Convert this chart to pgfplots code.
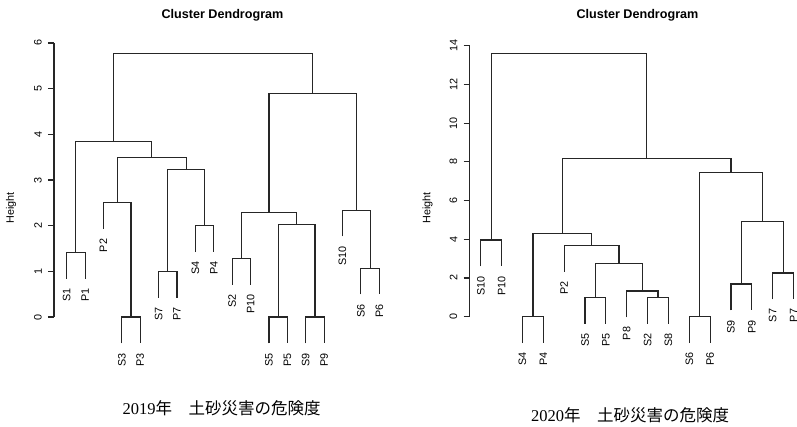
\documentclass[border=0pt]{standalone}
\usepackage{pgfplots}
\pgfplotsset{compat=1.18}
\usepackage{fontspec}
\setmainfont{Liberation Sans}
\newfontfamily\cjk{Noto Sans CJK JP}
\newfontfamily\serif{Liberation Serif}

\pgfplotsset{
  dend/.style={black!85, line width=1.15pt, mark=none, line join=miter},
  dendaxis/.style={
    scale only axis, clip=false,
    axis x line=none, axis y line*=left,
    tick align=outside, major tick length=6pt,
    every y tick/.style={black!85, line width=1.15pt},
    axis line style={black!85, line width=1.15pt},
    /pgf/number format/assume math mode=true,
    yticklabel style={rotate=90, anchor=south, inner sep=0pt, font=\fontsize{10.8}{12}\selectfont},
    yticklabel shift=6pt,
  },
  leaflab/.style={only marks, mark=none, nodes near coords, point meta=explicit symbolic,
    every node near coord/.style={font=\fontsize{10.8}{12}\selectfont, inner sep=0pt, anchor=east, rotate=90, xshift=-9.5pt}},
}

\begin{document}
\begin{tikzpicture}
\useasboundingbox (0,0) rectangle (797pt,-427pt);

% ---------------- 2019 ----------------
\begin{axis}[dendaxis, at={(54pt,-317pt)}, anchor=south west,
  width=334.5pt, height=274pt, xmin=0.31, xmax=18.5, ymin=0, ymax=6,
  ytick={0,1,2,3,4,5,6}]
\addplot[dend] coordinates {(1,0.843) (1,1.42) (2,1.42) (2,0.843)};
\addplot[dend] coordinates {(4,-0.577) (4,0) (5,0) (5,-0.577)};
\addplot[dend] coordinates {(3,1.923) (3,2.50) (4.5,2.50) (4.5,0)};
\addplot[dend] coordinates {(6,0.423) (6,1.0) (7,1.0) (7,0.423)};
\addplot[dend] coordinates {(8,1.423) (8,2.0) (9,2.0) (9,1.423)};
\addplot[dend] coordinates {(6.5,1.0) (6.5,3.23) (8.5,3.23) (8.5,2.0)};
\addplot[dend] coordinates {(3.75,2.50) (3.75,3.49) (7.5,3.49) (7.5,3.23)};
\addplot[dend] coordinates {(1.5,1.42) (1.5,3.85) (5.625,3.85) (5.625,3.49)};
\addplot[dend] coordinates {(10,0.703) (10,1.28) (11,1.28) (11,0.703)};
\addplot[dend] coordinates {(12,-0.577) (12,0) (13,0) (13,-0.577)};
\addplot[dend] coordinates {(14,-0.577) (14,0) (15,0) (15,-0.577)};
\addplot[dend] coordinates {(12.5,0) (12.5,2.02) (14.5,2.02) (14.5,0)};
\addplot[dend] coordinates {(10.5,1.28) (10.5,2.28) (13.5,2.28) (13.5,2.02)};
\addplot[dend] coordinates {(17,0.493) (17,1.07) (18,1.07) (18,0.493)};
\addplot[dend] coordinates {(16,1.763) (16,2.34) (17.5,2.34) (17.5,1.07)};
\addplot[dend] coordinates {(12,2.28) (12,4.89) (16.75,4.89) (16.75,2.34)};
\addplot[dend] coordinates {(3.5625,3.85) (3.5625,5.77) (14.375,5.77) (14.375,4.89)};
\addplot[leaflab] table[meta=lab] {
x y lab
1 0.843 S1
2 0.843 P1
3 1.923 P2
4 -0.577 S3
5 -0.577 P3
6 0.423 S7
7 0.423 P7
8 1.423 S4
9 1.423 P4
10 0.703 S2
11 0.703 P10
12 -0.577 S5
13 -0.577 P5
14 -0.577 S9
15 -0.577 P9
16 1.763 S10
17 0.493 S6
18 0.493 P6
};
\end{axis}

% ---------------- 2020 ----------------
\begin{axis}[dendaxis, at={(469.5pt,-316.7pt)}, anchor=south west,
  width=334.5pt, height=271pt, xmin=0.458, xmax=16.5, ymin=0, ymax=14,
  ytick={0,2,4,6,8,10,12,14}]
\addplot[dend] coordinates {(1,2.60) (1,3.96) (2,3.96) (2,2.60)};
\addplot[dend] coordinates {(3,-1.36) (3,0) (4,0) (4,-1.36)};
\addplot[dend] coordinates {(6,-0.36) (6,1.0) (7,1.0) (7,-0.36)};
\addplot[dend] coordinates {(9,-0.36) (9,1.0) (10,1.0) (10,-0.36)};
\addplot[dend] coordinates {(8,-0.03) (8,1.33) (9.5,1.33) (9.5,1.0)};
\addplot[dend] coordinates {(6.5,1.0) (6.5,2.77) (8.75,2.77) (8.75,1.33)};
\addplot[dend] coordinates {(5,2.31) (5,3.67) (7.625,3.67) (7.625,2.77)};
\addplot[dend] coordinates {(3.5,0) (3.5,4.31) (6.3125,4.31) (6.3125,3.67)};
\addplot[dend] coordinates {(11,-1.36) (11,0) (12,0) (12,-1.36)};
\addplot[dend] coordinates {(13,0.33) (13,1.69) (14,1.69) (14,0.33)};
\addplot[dend] coordinates {(15,0.90) (15,2.26) (16,2.26) (16,0.90)};
\addplot[dend] coordinates {(13.5,1.69) (13.5,4.91) (15.5,4.91) (15.5,2.26)};
\addplot[dend] coordinates {(11.5,0) (11.5,7.47) (14.5,7.47) (14.5,4.91)};
\addplot[dend] coordinates {(4.906,4.31) (4.906,8.18) (13,8.18) (13,7.47)};
\addplot[dend] coordinates {(1.5,3.96) (1.5,13.6) (8.953,13.6) (8.953,8.18)};
\addplot[leaflab] table[meta=lab] {
x y lab
1 2.60 S10
2 2.60 P10
3 -1.36 S4
4 -1.36 P4
5 2.31 P2
6 -0.36 S5
7 -0.36 P5
8 -0.03 P8
9 -0.36 S2
10 -0.36 S8
11 -1.36 S6
12 -1.36 P6
13 0.33 S9
14 0.33 P9
15 0.90 S7
16 0.90 P7
};
\end{axis}

% titles, axis titles, captions
\node[font=\bfseries\fontsize{12.6}{14}\selectfont] at (222.5pt,-15pt) {Cluster Dendrogram};
\node[font=\bfseries\fontsize{12.6}{14}\selectfont] at (637.5pt,-15pt) {Cluster Dendrogram};
\node[rotate=90, font=\fontsize{10.8}{12}\selectfont] at (11pt,-208pt) {Height};
\node[rotate=90, font=\fontsize{10.8}{12}\selectfont] at (427.5pt,-208pt) {Height};
\node[font=\fontsize{16.5}{19}\selectfont] at (221.7pt,-408pt) {\serif 2019\cjk 年　土砂災害の危険度};
\node[font=\fontsize{16.5}{19}\selectfont] at (630pt,-415pt) {\serif 2020\cjk 年　土砂災害の危険度};
\end{tikzpicture}
\end{document}
